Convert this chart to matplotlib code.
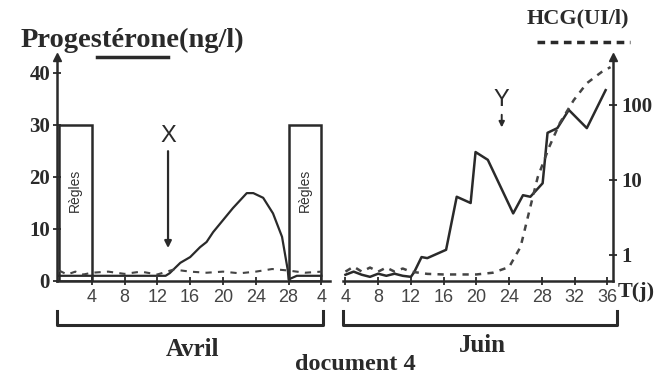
import numpy as np
import matplotlib
matplotlib.use("Agg")
from matplotlib import pyplot as plt
from matplotlib.patches import Rectangle

# ---- data ----
# progesterone (ng/l), Avril cycle
avril_days = [0, 2, 4, 6, 8, 10, 12, 13, 13.5, 14.8, 16, 17.2, 18, 18.8, 20, 21.2,
              22.9, 23.7, 24.9, 26.1, 27.2, 27.9, 28, 29, 30.5, 32]
avril_prog = [1, 1, 1, 1, 1, 1, 1, 1, 1.5, 3.5, 4.6, 6.5, 7.5, 9.4, 11.7, 14,
              16.9, 16.9, 16, 13, 8.5, 2.1, 0.3, 1, 1, 1]
# HCG (UI/l), Avril
avril_hcg_days = [0, 1, 2, 3, 4, 6, 8, 10, 12, 14, 16, 18, 20, 22, 24, 26, 28, 30, 32]
avril_hcg = [0.62, 0.55, 0.6, 0.55, 0.58, 0.6, 0.56, 0.6, 0.55, 0.64, 0.6, 0.58,
             0.6, 0.57, 0.6, 0.65, 0.62, 0.58, 0.6]

# progesterone (ng/l), Juin
juin_days = [4, 5, 6, 7, 8, 9, 10, 11, 12, 12.4, 13.3, 14, 16.3, 17.6, 19.3, 19.9,
             21.4, 24.5, 25.7, 26.6, 28.1, 28.7, 29.9, 31.3, 33.5, 35.8]
juin_prog = [1.2, 1.8, 1.2, 0.8, 1.4, 1.0, 1.4, 1.0, 0.8, 1.7, 4.6, 4.4, 6, 16.2,
             15, 24.8, 23.3, 13, 16.5, 16.2, 18.8, 28.5, 29.4, 32.9, 29.4, 36.7]
# HCG (UI/l), Juin
juin_hcg_days = [4, 5, 6, 7, 8, 9, 10, 11, 12, 14, 16, 18, 20, 22, 24, 25.4, 26.6,
                 27.5, 28.9, 30.2, 31.9, 33.5, 35.3, 36.4]
juin_hcg = [0.6, 0.7, 0.6, 0.68, 0.6, 0.68, 0.6, 0.66, 0.6, 0.56, 0.55, 0.55, 0.55,
            0.58, 0.69, 1.28, 4.4, 10.9, 27.5, 57.5, 116, 195, 275, 320]

regles_start = [0, 28]
regles_end = [4, 32]
regles_level = 30

avril_ticks = [4, 8, 12, 16, 20, 24, 28, 32]
avril_labels = ["4", "8", "12", "16", "20", "24", "28", "4"]
juin_ticks = [4, 8, 12, 16, 20, 24, 28, 32, 36]
prog_ticks = [0, 10, 20, 30, 40]
hcg_ticks = [1, 10, 100]

INK = "#2a2a2a"
SERIF = "Liberation Serif"
SANS = "Liberation Sans"

W, H = 669, 375
fig = plt.figure(figsize=(W / 100, H / 100), dpi=100)


def box(x0, y0, w, h):
    return [x0 / W, 1 - (y0 + h) / H, w / W, h / H]


def ftxt(x, y, s, **kw):
    fig.text(x / W, 1 - y / H, s, **kw)


axL = fig.add_axes(box(57, 57.4, 273, 223.6))
axR = fig.add_axes(box(343, 57.4, 270, 223.6))
axL.set_xlim(-0.24, 33.05)
axR.set_xlim(3.7, 36.7)
for ax in (axL, axR):
    ax.set_ylim(0, 43)
    ax.patch.set_alpha(0)
    for s in ("top", "right", "left"):
        ax.spines[s].set_visible(False)
    ax.spines["bottom"].set_linewidth(1.8)
    ax.spines["bottom"].set_color(INK)
    ax.tick_params(axis="x", direction="inout", length=6, width=1.3, color=INK,
                   labelsize=13, labelcolor="#444", pad=3)

axL.spines["left"].set_visible(True)
axL.spines["left"].set_linewidth(1.8)
axL.spines["left"].set_color(INK)
axL.set_yticks(prog_ticks)
axL.tick_params(axis="y", direction="inout", length=6, width=1.3, color=INK,
                labelsize=15, labelcolor=INK, pad=2)
for lab in axL.get_yticklabels():
    lab.set_family(SERIF)
    lab.set_fontweight("bold")
axL.plot([0], [1], transform=axL.transAxes, marker="^", ms=6, color=INK, clip_on=False)
axR.set_yticks([])

axL.set_xticks(avril_ticks, avril_labels, fontfamily=SANS)
axR.set_xticks(juin_ticks, [str(t) for t in juin_ticks], fontfamily=SANS)

# log HCG axes
hL = axL.twinx()
hR = axR.twinx()
for h in (hL, hR):
    h.set_yscale("log")
    h.set_ylim(0.45, 431)
    for s in h.spines.values():
        s.set_visible(False)
    h.minorticks_off()
hL.set_yticks([])
hR.spines["right"].set_visible(True)
hR.spines["right"].set_linewidth(1.8)
hR.spines["right"].set_color(INK)
hR.set_yticks(hcg_ticks, ["1", "10", "100"])
hR.minorticks_off()
hR.tick_params(axis="y", direction="inout", length=6, width=1.3, color=INK,
               labelsize=15, labelcolor=INK, pad=3)
for lab in hR.get_yticklabels():
    lab.set_family(SERIF)
    lab.set_fontweight("bold")
hR.plot([1], [1], transform=hR.transAxes, marker="^", ms=6, color=INK, clip_on=False)

# curves
axL.plot(avril_days, avril_prog, color=INK, lw=1.6)
axR.plot(juin_days, juin_prog, color=INK, lw=1.8)
hL.plot(avril_hcg_days, avril_hcg, color="#444", lw=1.5, ls=(0, (3, 3)))
hR.plot(juin_hcg_days, juin_hcg, color="#444", lw=1.8, ls=(0, (2.5, 2.5)))

# menstruation boxes
for a, b in zip(regles_start, regles_end):
    axL.add_patch(Rectangle((a, 0), b - a, regles_level, fill=False, ec=INK, lw=1.8))
    axL.text((a + b) / 2, 17.5, "Règles", rotation=90, ha="center", va="center",
             fontsize=10, family=SANS, color="#333")

# X and Y markers
axL.annotate("", xy=(13.3, 5.8), xytext=(13.3, 25.5),
             arrowprops=dict(arrowstyle="-|>", lw=1.6, color=INK, mutation_scale=10))
axL.text(13.3, 27.8, "X", ha="center", va="center", fontsize=17, family=SANS, color=INK)
axR.annotate("", xy=(23.1, 29), xytext=(23.1, 32.5),
             arrowprops=dict(arrowstyle="-|>", lw=1.4, color=INK, mutation_scale=8))
axR.text(23.1, 34.8, "Y", ha="center", va="center", fontsize=17, family=SANS, color=INK)

# titles / legend
ftxt(21, 40, "Progestérone(ng/l)", fontsize=20.5, family=SERIF, fontweight="bold",
     color=INK, va="center")
fig.add_artist(plt.Line2D([97 / W, 168 / W], [1 - 57 / H] * 2, color=INK, lw=2.5))
ftxt(527, 18, "HCG(UI/l)", fontsize=16, family=SERIF, fontweight="bold",
     color=INK, va="center")
fig.add_artist(plt.Line2D([537 / W, 630 / W], [1 - 42 / H] * 2, color=INK, lw=2.5,
                          ls=(0, (2.2, 1.6))))
ftxt(618, 292, "T(j)", fontsize=16, family=SERIF, fontweight="bold", color=INK,
     va="center")

# month brackets
for x0, x1 in ((57, 323), (343, 617)):
    fig.add_artist(plt.Line2D([x0 / W, x0 / W, x1 / W, x1 / W],
                              [1 - 311 / H, 1 - 325 / H, 1 - 325 / H, 1 - 311 / H],
                              color=INK, lw=2.2))
ftxt(193, 350, "Avril", fontsize=18, family=SERIF, fontweight="bold", color=INK,
     ha="center", va="center")
ftxt(482, 346, "Juin", fontsize=18, family=SERIF, fontweight="bold", color=INK,
     ha="center", va="center")
ftxt(355, 364, "document 4", fontsize=17.5, family=SERIF, fontweight="bold", color=INK,
     ha="center", va="center")

fig.savefig("out.png", dpi=100, facecolor="white")
